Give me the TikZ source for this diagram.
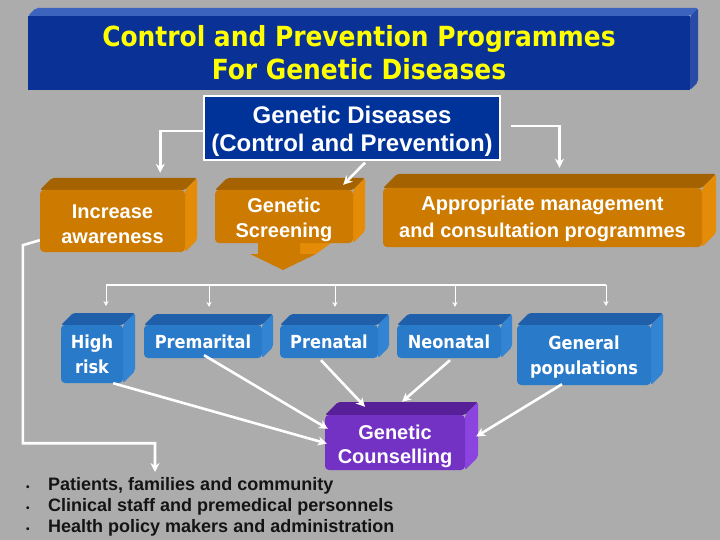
\documentclass[tikz,border=0pt]{standalone}
\usepackage{fontspec}
\setmainfont{Liberation Sans}
\newfontfamily\tahoma{DejaVu Sans Condensed}
\usepackage{tikz}
\usetikzlibrary{arrows.meta, positioning, calc}

\definecolor{bggray}{RGB}{172,172,172}
\definecolor{ttlfront}{RGB}{10,50,150}
\definecolor{ttltop}{RGB}{60,100,190}
\definecolor{ttlside}{RGB}{40,75,165}
\definecolor{gdblue}{RGB}{0,51,153}
\definecolor{orngfront}{RGB}{204,122,0}
\definecolor{orngtop}{RGB}{165,98,0}
\definecolor{orngside}{RGB}{228,140,8}
\definecolor{bluefront}{RGB}{42,122,202}
\definecolor{bluetop}{RGB}{32,96,170}
\definecolor{blueside}{RGB}{52,132,212}
\definecolor{purpfront}{RGB}{115,50,195}
\definecolor{purptop}{RGB}{88,32,152}
\definecolor{purpside}{RGB}{140,68,225}
\definecolor{ttlyellow}{RGB}{255,255,0}

% 3D slab: name, x, y, width, height, depth, colour set, text style, text
\newcommand{\slab}[9]{%
  \fill[#7top, rounded corners=2pt] ({#2-#4/2},{#3-#5/2}) -- ++(#6,-#6) -- ++(#4,0) -- ({#2+#4/2},{#3-#5/2}) -- cycle;
  \fill[#7side, rounded corners=2pt] ({#2+#4/2},{#3-#5/2}) -- ++(#6,-#6) -- ++(0,#5) -- ({#2+#4/2},{#3+#5/2}) -- cycle;
  \node[fill=#7front, #7shape, minimum width=#4pt, minimum height=#5pt, inner sep=0pt] (#1) at (#2,#3) {};
  \node[align=center, inner sep=0pt, #8] at (#1.center) {#9};
  \coordinate (#1-top) at ({#2+#6},{#3-#5/2-#6});
}

\begin{document}
\begin{tikzpicture}[x=1pt, y=-1pt, >=Stealth,
    ttlshape/.style={}, orngshape/.style={rounded corners=4pt},
    blueshape/.style={rounded corners=4pt}, purpshape/.style={rounded corners=4pt},
    ttltext/.style={text=ttlyellow, font=\tahoma\bfseries\fontsize{27.7}{33}\selectfont},
    boxtext/.style={text=white, font=\bfseries\fontsize{20}{24.5}\selectfont},
    bluetext/.style={text=white, font=\tahoma\bfseries\fontsize{18}{25}\selectfont},
    conn/.style={->, white, line width=2.6pt, >={Stealth[length=9pt, width=9pt]}},
    fan/.style={->, white, line width=0.9pt, >={Stealth[length=5pt, width=5pt]}, shorten >=7pt}]
  \useasboundingbox (0,0) rectangle (720,540);
  \fill[bggray] (0,0) rectangle (720,540);

  % title
  \slab{ttl}{359}{53}{662}{74}{8}{ttl}{ttltext}{Control and Prevention Programmes\\For Genetic Diseases}

  % root box
  \node[fill=gdblue, draw=white, line width=1.5pt, minimum width=296pt, minimum height=64pt,
    inner sep=0pt] (gd) at (352,128) {};
  \node[align=center, inner sep=0pt, text=white, yshift=-3pt,
    font=\bfseries\fontsize{24}{28}\selectfont] at (gd.center) {Genetic Diseases\\(Control and Prevention)};

  % orange row
  \slab{ia}{112.5}{221}{145}{62}{12}{orng}{boxtext, yshift=-3pt}{Increase\\awareness}
  \fill[orngside] (300,243) -- (331,243) -- (316,254) -- (300,254) -- cycle;
  \fill[orngfront] (258,243) -- (300,243) -- (300,254) -- (316,254) -- (283,270) -- (250,254) -- (258,254) -- cycle;
  \slab{gs}{284}{216.5}{138}{53}{12}{orng}{boxtext, yshift=-3.5pt}{Genetic\\Screening}
  \slab{ap}{542.5}{217.5}{319}{59}{14}{orng}{boxtext, yshift=-1pt, font=\bfseries\fontsize{20}{27}\selectfont}{Appropriate management\\and consultation programmes}

  \draw[conn] ($(gd.west)+(0,3)$) -| ($(ia.north east)+(-25,-17)$);
  \draw[conn] ($(gd.east)+(10,-2)$) -| ($(ap.north)+(17,-20)$);
  \draw[conn] ($(gd.south)+(13,2)$) -- ($(gs.north east)+(-10,-5)$);

  % blue row
  \slab{hr}{92}{354}{62}{58}{12}{blue}{bluetext}{High\\risk}
  \slab{pm}{203}{341.5}{118}{33}{11}{blue}{bluetext}{Premarital}
  \slab{pn}{329}{341.5}{98}{33}{11}{blue}{bluetext}{Prenatal}
  \slab{nn}{449}{341.5}{104}{33}{11}{blue}{bluetext}{Neonatal}
  \slab{gp}{584}{355}{134}{60}{12}{blue}{bluetext, yshift=-2pt}{General\\populations}

  \coordinate (b1) at (106,285);
  \coordinate (b2) at (209,285);
  \coordinate (b3) at (335,285);
  \coordinate (b4) at (455,285);
  \coordinate (b5) at (606,285);
  \draw[white, line width=2.6pt] (b1) -- (b5);
  \foreach \b/\n in {b1/hr, b2/pm, b3/pn, b4/nn, b5/gp}
    \draw[fan] (\b) -- (\b |- \n-top);

  % counselling
  \slab{gc}{395}{442.5}{140}{55}{13}{purp}{boxtext, yshift=-4pt}{Genetic\\Counselling}

  \draw[conn] ($(hr.south east)+(-10,0)$) -- ($(gc.west)+(2,1)$);
  \draw[conn] ($(pm.south)+(1,-3)$) -- ($(gc.north west)+(3,14)$);
  \draw[conn] ($(pn.south)+(-8,2)$) -- ($(gc.north)+(-30,-8)$);
  \draw[conn] ($(nn.south)+(1,2)$) -- ($(gc.north)+(7,-13)$);
  \draw[conn] ($(gp.south)+(-22,-1)$) -- ($(gc.east)+(11,-6)$);

  % target groups
  \node[anchor=north west, inner sep=0pt, text={rgb,255:red,20;green,20;blue,20},
    font=\bfseries\fontsize{18}{21}\selectfont] (lst) at (26,476)
    {\begin{tabular}{@{}l@{\hspace{18.5pt}}l@{}}
      {\fontsize{10}{21}\selectfont\textbullet} & Patients, families and community\\
      {\fontsize{10}{21}\selectfont\textbullet} & Clinical staff and premedical personnels\\
      {\fontsize{10}{21}\selectfont\textbullet} & Health policy makers and administration
    \end{tabular}};

  \draw[conn] ($(ia.south west)+(0,-12)$) -- ++(-17,5) -- ++(0,198) -| ($(lst.north west)+(129,-4)$);
\end{tikzpicture}
\end{document}
